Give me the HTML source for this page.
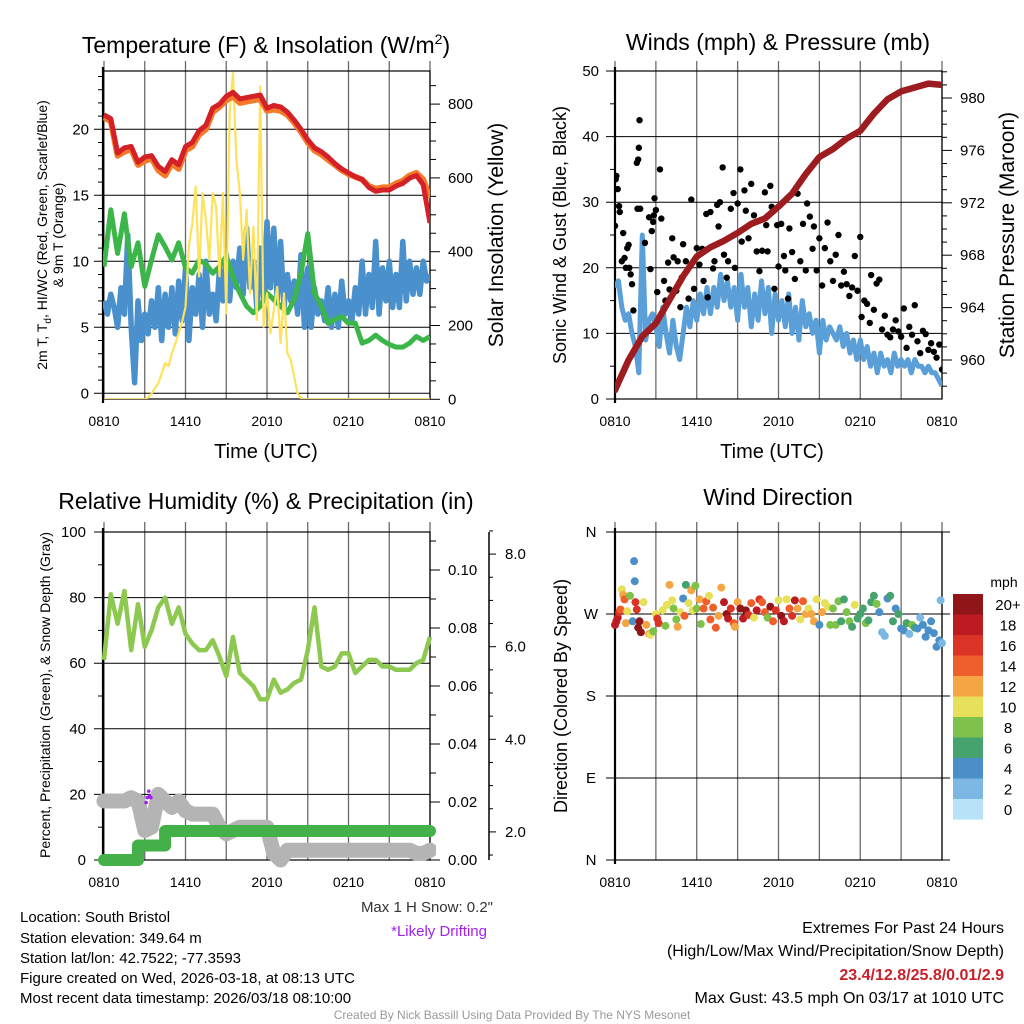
<!DOCTYPE html>
<html><head><meta charset="utf-8"><title>Mesonet Station Meteogram</title>
<style>
html,body{margin:0;padding:0;background:#fff;}
svg{display:block;font-family:"Liberation Sans",sans-serif;}
</style></head>
<body>
<svg id="chart" width="1024" height="1024" viewBox="0 0 1024 1024" xmlns="http://www.w3.org/2000/svg">
<defs>
<clipPath id="c1"><rect x="103" y="71" width="327" height="328"/></clipPath>
<clipPath id="c2"><rect x="615" y="71" width="327" height="328"/></clipPath>
<clipPath id="c3"><rect x="96" y="532" width="340" height="336"/></clipPath>
<clipPath id="c4"><rect x="605" y="532" width="345" height="330"/></clipPath>
</defs>
<g id="texts" fill="#000">
<text x="266" y="53" font-size="23" text-anchor="middle">Temperature (F) &amp; Insolation (W/m<tspan font-size="14" dy="-9">2</tspan><tspan dy="9">)</tspan></text>
<text x="778" y="50" font-size="23" text-anchor="middle">Winds (mph) &amp; Pressure (mb)</text>
<text x="266" y="509" font-size="23" text-anchor="middle">Relative Humidity (%) &amp; Precipitation (in)</text>
<text x="778" y="505" font-size="23" text-anchor="middle">Wind Direction</text>
<text x="266" y="458" font-size="20" text-anchor="middle">Time (UTC)</text>
<text x="772" y="458" font-size="20" text-anchor="middle">Time (UTC)</text>
<text transform="translate(47,235) rotate(-90)" font-size="14" text-anchor="middle">2m T, T<tspan font-size="10" dy="4">d</tspan><tspan dy="-4">, HI/WC (Red, Green, Scarlet/Blue)</tspan></text>
<text transform="translate(63,235) rotate(-90)" font-size="14" text-anchor="middle">&amp; 9m T (Orange)</text>
<text transform="translate(503,235) rotate(-90)" font-size="21" text-anchor="middle">Solar Insolation (Yellow)</text>
<text transform="translate(566,235) rotate(-90)" font-size="18" text-anchor="middle">Sonic Wind &amp; Gust (Blue, Black)</text>
<text transform="translate(1014,235) rotate(-90)" font-size="21" text-anchor="middle">Station Pressure (Maroon)</text>
<text transform="translate(50,695) rotate(-90)" font-size="14" text-anchor="middle">Percent, Precipitation (Green), &amp; Snow Depth (Gray)</text>
<text transform="translate(567,696) rotate(-90)" font-size="18" text-anchor="middle">Direction (Colored By Speed)</text>
<text x="20" y="922" font-size="15">Location: South Bristol</text>
<text x="20" y="943" font-size="15">Station elevation: 349.64 m</text>
<text x="20" y="963" font-size="15">Station lat/lon: 42.7522; -77.3593</text>
<text x="20" y="983" font-size="15">Figure created on Wed, 2026-03-18, at 08:13 UTC</text>
<text x="20" y="1003" font-size="15">Most recent data timestamp: 2026/03/18 08:10:00</text>
<text x="493" y="912" font-size="15" text-anchor="end" fill="#333">Max 1 H Snow: 0.2"</text>
<text x="487" y="936" font-size="15" text-anchor="end" fill="#a020f0">*Likely Drifting</text>
<text x="1004" y="933" font-size="16" text-anchor="end">Extremes For Past 24 Hours</text>
<text x="1004" y="956" font-size="16" text-anchor="end">(High/Low/Max Wind/Precipitation/Snow Depth)</text>
<text x="1004" y="980" font-size="16" font-weight="bold" text-anchor="end" fill="#c8202a">23.4/12.8/25.8/0.01/2.9</text>
<text x="1004" y="1003" font-size="16" text-anchor="end">Max Gust: 43.5 mph On 03/17 at 1010 UTC</text>
<text x="512" y="1019" font-size="12" text-anchor="middle" fill="#999">Created By Nick Bassill Using Data Provided By The NYS Mesonet</text>
</g>
</svg>
<script>
// ---------- DATA ----------
const xTickLabels = ["0810","1410","2010","0210","0810"];
// Temperature panel (half-hourly, hours since 0810)
const tempRed = [21.1,20.8,18.2,18.6,18.7,17.5,17.9,18.0,17.2,16.8,17.7,17.3,18.7,19.0,19.9,20.3,21.6,21.9,22.5,22.8,22.3,22.4,22.5,22.6,21.6,21.8,21.7,21.3,20.7,20.0,19.2,18.6,18.3,17.9,17.4,17.0,16.7,16.4,16.2,15.6,15.3,15.4,15.4,15.7,15.9,16.3,16.5,15.8,12.9];
const temp9m = [20.9,20.6,18.0,18.3,18.5,17.3,17.6,17.8,16.9,16.5,17.4,17.0,18.4,18.7,19.6,20.0,21.3,21.7,22.2,22.5,22.0,22.1,22.2,22.3,21.4,21.5,21.4,21.1,20.5,19.8,19.0,18.4,18.1,17.7,17.3,16.9,16.6,16.4,16.2,15.7,15.5,15.6,15.6,15.9,16.1,16.5,16.7,16.2,14.8];
const dewGreen = [9.6,13.9,10.6,13.6,9.6,11.4,8.1,10.1,12.0,11.1,10.1,11.4,9.5,9.1,10.1,9.8,9.1,9.6,10.4,8.8,7.6,6.6,6.1,6.6,7.6,7.1,6.6,6.1,7.1,9.1,12.1,7.6,6.6,5.3,5.6,5.8,5.3,5.3,3.8,4.0,4.4,4.0,3.7,3.5,3.5,3.8,4.3,4.0,4.3];
// quarter-hourly
const windChill = [7,6,7.5,6.5,5,8,6,12,5,0.8,7,4,6,4.5,7,5,8,4,7.5,5,8,4.5,8.5,5.5,9.5,4,8,6,9,5,10,6,7.5,5.5,9.5,7,10.5,7,10,8,11,7.5,12.5,8,10,6.5,11,7,13,8,12.5,7,11.5,6.5,9,7,8.5,6,10.5,5,9.5,5,8,6,7,5.5,8,5,7.5,5,8.5,6,7,5.5,8,6,10,6,9,6.5,11.5,6,9.5,7,10,6.5,9,6.5,11.5,7,10,7.5,9.5,7.5,10,8.5,9];
const solar = [0,0,0,0,0,0,0,0,0,0,0,0,0,5,15,30,43,70,98,90,125,150,180,210,250,415,477,577,333,559,486,378,559,522,333,559,233,776,884,649,559,378,513,287,468,215,848,197,287,179,242,305,152,287,125,107,61,16,3,0,0,0,0,0,0,0,0,0,0,0,0,0,0,0,0,0,0,0,0,0,0,0,0,0,0,0,0,0,0,0,0,0,0,0,0,0,0];
// Winds panel
const pressure = [957.7,960.0,961.8,962.8,964.6,966.4,967.9,968.6,969.1,969.7,970.4,970.8,971.7,972.7,974.2,975.5,976.1,976.9,977.5,978.8,979.9,980.5,980.8,981.1,981.0];
const sonicWind = [17,18,14,12,13,10,8,4,25,9,12,13,11,8,14,10,7,12,8,6,10,14,11,15,12,16,13,17,13,17,14,19,15,18,14,17,12,19,14,17,11,16,12,18,13,17,10,16,12,15,11,16,10,14,9,15,11,13,10,12,7,12,9,11,10,9,11,8,10,7,9,6,9,6,8,5,7,4,7,5,6,4,7,5,6,5,6,4,6,5,5,4,5,4,4,3,2];
const gustHour = [0,0.05,0.1,0.2,0.3,0.35,0.5,0.6,0.7,0.8,0.9,1.0,1.05,1.15,1.25,1.35,1.6,1.7,1.75,1.8,1.65,1.85,2.2,2.5,2.6,2.7,2.8,2.85,2.9,3.0,3.1,3.3,3.4,3.6,3.7,3.9,4.0,4.2,4.3,4.5,4.6,4.8,4.9,5.0,5.2,5.4,5.6,5.8,6.0,6.2,6.4,6.5,6.7,6.8,7.0,7.2,7.3,7.5,7.6,7.7,7.9,8.0,8.2,8.3,8.5,8.7,8.8,9.0,9.2,9.3,9.5,9.6,9.8,10.0,10.2,10.4,10.6,10.8,11.0,11.1,11.2,11.4,11.5,11.7,11.9,12.0,12.2,12.4,12.5,12.7,12.8,13.0,13.2,13.4,13.6,13.8,14.0,14.1,14.3,14.5,14.6,14.8,15.0,15.2,15.4,15.6,15.8,16.0,16.2,16.4,16.6,16.8,17.0,17.2,17.4,17.6,17.8,18.0,18.1,18.3,18.5,18.7,18.8,19.0,19.2,19.4,19.6,19.8,20.0,20.2,20.4,20.6,20.8,21.0,21.2,21.4,21.6,21.8,22.0,22.2,22.4,22.6,22.8,23.0,23.2,23.4,23.6,23.8,24.0];
const gustMph = [26.4,33.5,34,32,29.4,28.5,21,25.3,21.5,20,23,23.5,20,19,17.5,13.5,36,36.5,38.3,42.5,29,29,23.8,27.7,19.8,25.6,27,28,30.6,28.8,16.3,35,27.5,18,15,20.8,16.7,24.5,21.6,16.5,21,14,18.5,23.6,21,15.3,30.4,16.8,23,20.5,22.9,18,28.2,15.5,28.5,19.9,21,29.6,26.3,30,35.3,22,18.5,21,29,31.4,20,29.8,35,24,31.8,28.7,24.5,32.8,28,22.5,19.5,22.6,31.5,26.5,22.5,32.5,29.3,16.8,26.5,20.2,26.7,21.8,19.6,15.3,26,22.4,18.3,31.3,21,26.7,19.6,29.8,27.8,22.9,26.3,19.6,24.5,17.3,23,26.9,21,18,22,25,17.3,19.4,17.5,15.7,17,21.8,16.5,24.7,12.5,15,14.5,11.6,18.9,13.6,17.6,18.2,10.6,12.7,9.8,9.4,10.6,12,10.3,9.5,13.8,7.8,11,9.8,14.3,8.8,7,10.4,9.9,7.5,8.5,7.2,6.3,8.3,4.5];
// RH panel (half-hourly)
const relHum = [61,81,72,82,64,78,65,70,77,80,72,77,69,66,64,64,67,62,56,68,57,55,53,49,49,55,51,52,54,55,64,77,59,58,59,63,63,57,59,61,61,59,59,58,58,58,60,61,68];
const snowDepthPct = [18,18,18,18,19,18,9,10,20,18,16,18,15,14,14,14,14,10,8,9,10,10,10,10,10,2,0,3,3,3,3,3,3,3,3,3,3,3,3,3,3,3,3,3,3,3,2,2,3];
const precipIn = [0,0,0,0,0,0.005,0.005,0.005,0.005,0.01,0.01,0.01,0.01,0.01,0.01,0.01,0.01,0.01,0.01,0.01,0.01,0.01,0.01,0.01,0.01,0.01,0.01,0.01,0.01,0.01,0.01,0.01,0.01,0.01,0.01,0.01,0.01,0.01,0.01,0.01,0.01,0.01,0.01,0.01,0.01,0.01,0.01,0.01,0.01];
const driftHour = [3.1,3.2,3.3,3.35,3.45];
const driftPct = [17.5,19,21,19.5,19];
// Wind direction panel
const dirHour = [0,0.1,0.2,0.3,0.4,0.5,0.6,0.7,0.8,0.9,1.1,1.3,1.4,1.45,1.5,1.6,1.7,1.8,1.9,2.1,2.3,2.5,2.6,2.8,3.0,3.1,3.2,3.5,3.7,3.8,4.0,4.2,4.3,4.5,4.6,4.8,5.0,5.1,5.2,5.4,5.6,5.7,5.9,6.0,6.2,6.3,6.5,6.7,6.9,7.0,7.2,7.4,7.6,7.8,8.0,8.2,8.3,8.5,8.7,8.8,9.0,9.2,9.4,9.6,9.8,10.0,10.2,10.4,10.6,10.8,11.0,11.2,11.4,11.6,11.8,12.0,12.2,12.4,12.6,12.8,13.0,13.2,13.4,13.6,13.8,14.0,14.2,14.4,14.6,14.8,15.0,15.2,15.4,15.6,15.8,16.0,16.2,16.4,16.6,16.8,17.0,17.2,17.4,17.6,17.8,18.0,18.2,18.4,18.6,18.8,19.0,19.2,19.4,19.6,19.8,20.0,20.2,20.4,20.6,20.8,21.0,21.2,21.4,21.6,21.8,22.0,22.2,22.4,22.6,22.8,23.0,23.2,23.4,23.6,23.8,23.9,24.0];
const dirDeg = [258,262,266,272,275,297,291,286,260,273,290,262,328,306,283,275,255,262,250,283,258,248,247,251,270,265,260,274,257,280,302,285,276,264,256,272,287,268,302,282,296,274,301,276,286,259,276,284,290,264,277,255,268,299,283,270,265,276,260,256,283,276,265,274,269,282,266,274,286,283,272,266,278,262,274,285,268,262,286,276,268,285,276,264,284,270,276,270,262,286,258,272,282,278,258,276,258,284,262,286,272,262,256,280,265,270,276,260,263,283,290,281,272,250,246,287,290,262,276,270,254,252,260,248,258,255,254,266,258,245,252,262,249,234,241,285,238];
const dirSpeed = [18,18,18,16,14,10,12,14,12,10,8,4,4,4,16,16,20,20,20,10,12,12,10,8,10,16,16,10,8,10,12,10,8,8,12,10,4,14,6,10,12,10,8,8,12,8,14,14,10,14,14,14,12,12,18,20,18,16,14,12,12,20,18,20,16,14,10,18,16,14,14,8,20,14,16,10,20,18,10,14,16,18,12,10,14,12,10,12,12,10,4,12,10,10,8,8,8,8,6,6,8,8,6,10,6,6,6,8,6,6,6,8,4,2,2,4,6,6,4,6,4,4,6,2,8,6,4,2,4,4,4,4,4,4,4,2,2];
const cbarLabels = ["20+","18","16","14","12","10","8","6","4","2","0"];
const cbarColors = ["#8f1518","#bc1b22","#dc3327","#ef5f2b","#f5a544","#e7e05a","#7fc24b","#47a36e","#4a8fc7","#7db7e3","#b7e2f7"];

// ---------- SCALES ----------
const NS="http://www.w3.org/2000/svg";
const svg=document.getElementById('chart');
const xA=h=>104+h*326/24;
const xB=h=>615+h*327/24;
const yTemp=v=>393.3-v*13.2;
const ySolar=w=>399.3-w*0.369;
const yWind=v=>399-v*6.56;
const yPres=p=>360-(p-960)*13.1;
const yRH=v=>860-v*3.28;
const yPrecip=i=>860-i*2900;
const ySnowIn=s=>924.5-s*46.3;
const yDir=d=>860-d*328/360;

function mk(tag,attrs,parent){const e=document.createElementNS(NS,tag);for(const k in attrs)e.setAttribute(k,attrs[k]);(parent||svg).appendChild(e);return e;}
function pathFrom(xs,ys){let d='';for(let i=0;i<xs.length;i++)d+=(i?'L':'M')+xs[i].toFixed(1)+','+ys[i].toFixed(1);return d;}

// ---------- FRAMES ----------
function frame(x0,x1,y0,y1,xf,name){
  const g=mk('g',{});
  
  
  for(let h=0;h<=24;h+=3){
    const x=xf(h);
    const l=mk('line',{x1:x,x2:x,y1:y0-10,y2:y1,stroke:'#6a6a6a','stroke-width':1.3},g);
    
    
  }
  const r=mk('rect',{x:x0,y:y0,width:x1-x0,height:y1-y0,fill:'none',stroke:'#000','stroke-width':1.2},g);
  
  
  const lb=mk('line',{x1:x0,x2:x0,y1:y0-4,y2:y1+4,stroke:'#000','stroke-width':2.2},g);
  
  
  for(let i=0;i<5;i++){
    const h=i*6;
    const t=mk('text',{x:xf(h),y:y1+27,'font-size':14,'text-anchor':'middle'},g);
    t.textContent=xTickLabels[i];
    
    
  }
  return g;
}
function hline(g,x0,x1,y,name,w){const l=mk('line',{x1:x0,x2:x1,y1:y,y2:y,stroke:'#000','stroke-width':w||1},g);return l;}
function label(g,x,y,txt,anchor,name,size){const t=mk('text',{x:x,y:y,'font-size':size||14,'text-anchor':anchor},g);t.textContent=txt;return t;}

const g1=frame(103,430,71,399,xA,'temp');
[0,5,10,15,20].forEach(v=>{hline(g1,94,430,yTemp(v),'temp-y-gridline');label(g1,89,yTemp(v)+5,String(v),'end','temp-y-tick-label',15);});
for(let v=1;v<=24;v++){if(v%5)hline(g1,98,103,yTemp(v),'temp-y-minor-tick');}
for(let w=0;w<=850;w+=50){hline(g1,430,w%200===0?440:436,ySolar(w),'solar-y-tick');}
[0,200,400,600,800].forEach(w=>label(g1,448,ySolar(w)+5,String(w),'start','solar-y-tick-label',15));
const g2=frame(615,942,71,399,xB,'winds');
[0,10,20,30,40,50].forEach(v=>{hline(g2,606,942,yWind(v),'wind-y-gridline');label(g2,599,yWind(v)+5,String(v),'end','wind-y-tick-label',15);});
for(let v=5;v<50;v+=10)hline(g2,610,615,yWind(v),'wind-y-minor-tick');
for(let p=958;p<=982;p++){hline(g2,942,p%4===0?952:947,yPres(p),'pressure-y-tick');}
[960,964,968,972,976,980].forEach(p=>label(g2,960,yPres(p)+5,String(p),'start','pressure-y-tick-label',15));
const g3=frame(103,430,532,860,xA,'rh');
[0,20,40,60,80,100].forEach(v=>{hline(g3,94,430,yRH(v),'rh-y-gridline');label(g3,86,yRH(v)+5,String(v),'end','rh-y-tick-label',15);});
for(let v=10;v<100;v+=20)hline(g3,98,103,yRH(v),'rh-y-minor-tick');
for(let k=0;k<=11;k++){const i=k*0.01;hline(g3,430,k%2===0?440:436,yPrecip(i),'precip-y-tick');}
for(let k=0;k<=5;k++){const i=k*0.02;label(g3,448,yPrecip(i)+5,i.toFixed(2),'start','precip-y-tick-label',15);}
const ax=mk('line',{x1:489,x2:489,y1:532,y2:860,stroke:'#000','stroke-width':1.5},g3);


for(let s=1.5;s<=8.5;s+=0.5){hline(g3,489,Number.isInteger(s/2)?496:493,ySnowIn(s),'snow-depth-tick');}
[2,4,6,8].forEach(s=>label(g3,505,ySnowIn(s)+5,s.toFixed(1),'start','snow-depth-tick-label',15));
const g4=frame(615,942,532,860,xB,'direction');
[[0,'N'],[90,'E'],[180,'S'],[270,'W'],[360,'N']].forEach(a=>{hline(g4,606,950,yDir(a[0]),'direction-y-gridline');label(g4,591,yDir(a[0])+5,a[1],'middle','direction-y-tick-label',15);});

// ---------- SERIES ----------
const c1=mk('g',{'clip-path':'url(#c1)'});


const hh=tempRed.map((_,i)=>i*0.5);
const qh=windChill.map((_,i)=>i*0.25);
let p;
p=mk('path',{d:pathFrom(qh.map(xA),windChill.map(yTemp)),fill:'none',stroke:'#4a90cc','stroke-width':5.5,'stroke-linejoin':'round'},c1);


p=mk('path',{d:pathFrom(hh.map(xA),dewGreen.map(yTemp)),fill:'none',stroke:'#3cb54a','stroke-width':5,'stroke-linejoin':'round'},c1);


p=mk('path',{d:pathFrom(qh.map(xA),solar.map(ySolar)),fill:'none',stroke:'#fde25b','stroke-width':2.2,'stroke-linejoin':'round'},c1);


p=mk('path',{d:pathFrom(hh.map(xA),temp9m.map(yTemp)),fill:'none',stroke:'#f47a2a','stroke-width':6,'stroke-linejoin':'round'},c1);


p=mk('path',{d:pathFrom(hh.map(xA),tempRed.map(yTemp)),fill:'none',stroke:'#d42027','stroke-width':5,'stroke-linejoin':'round'},c1);



const c2=mk('g',{'clip-path':'url(#c2)'});


p=mk('path',{d:pathFrom(qh.map(xB),sonicWind.map(yWind)),fill:'none',stroke:'#5a9fd8','stroke-width':5,'stroke-linejoin':'round'},c2);


for(let i=0;i<gustHour.length;i++){
  const c=mk('circle',{cx:xB(gustHour[i]),cy:yWind(gustMph[i]),r:3.2,fill:'#000'},c2);
  
  
}
const ph=pressure.map((_,i)=>i);
p=mk('path',{d:pathFrom(ph.map(xB),pressure.map(yPres)),fill:'none',stroke:'#9d1c20','stroke-width':6.5,'stroke-linejoin':'round','stroke-linecap':'round'},c2);



const c3=mk('g',{'clip-path':'url(#c3)'});


p=mk('path',{d:pathFrom(hh.map(xA),snowDepthPct.map(yRH)),fill:'none',stroke:'#b4b4b4','stroke-width':15,'stroke-linejoin':'round','stroke-linecap':'round'},c3);


let pd='';for(let i=0;i<precipIn.length;i++){const x=xA(hh[i]),y=yPrecip(precipIn[i]);pd+=(i?('L'+x.toFixed(1)+','+yPrecip(precipIn[i-1]).toFixed(1)+'L'):'M')+x.toFixed(1)+','+y.toFixed(1);}
p=mk('path',{d:pd,fill:'none',stroke:'#44b049','stroke-width':12,'stroke-linejoin':'round','stroke-linecap':'round'},c3);


p=mk('path',{d:pathFrom(hh.map(xA),relHum.map(yRH)),fill:'none',stroke:'#8dc850','stroke-width':4.5,'stroke-linejoin':'round'},c3);


for(let i=0;i<driftHour.length;i++){
  const c=mk('circle',{cx:xA(driftHour[i]),cy:yRH(driftPct[i]),r:1.8,fill:'#a020f0'},c3);
  
  
}

const c4=mk('g',{'clip-path':'url(#c4)'});


for(let i=0;i<dirHour.length;i++){
  const k=10-Math.min(10,Math.round(dirSpeed[i]/2));
  const c=mk('circle',{cx:xB(dirHour[i]),cy:yDir(dirDeg[i]),r:4,fill:cbarColors[k]},c4);
  
  
}
const cb=mk('g',{});


label(cb,1004,587,'mph','middle','colorbar-unit-label',14);
for(let k=0;k<cbarColors.length;k++){
  const r=mk('rect',{x:953,y:594+k*20.5,width:30,height:20.6,fill:cbarColors[k]},cb);
  
  
  label(cb,1008,594+k*20.5+16,cbarLabels[k],'middle','colorbar-label',15);
}
</script>
</body></html>
